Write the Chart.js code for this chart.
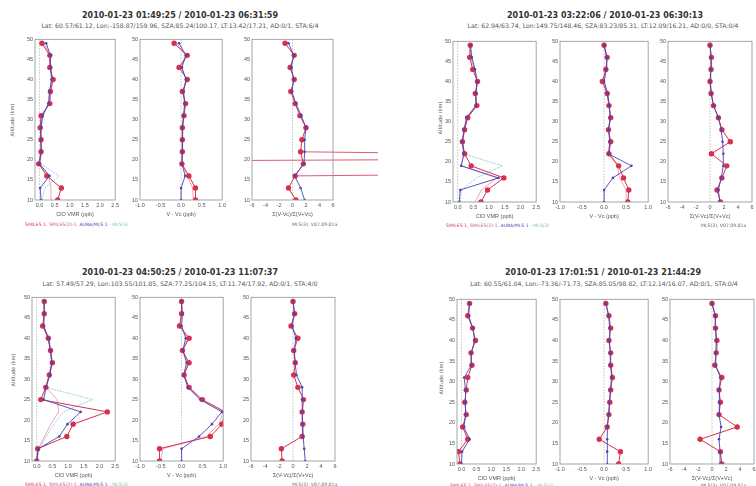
<!DOCTYPE html>
<html>
<head>
<meta charset="utf-8">
<script src="https://cdn.jsdelivr.net/npm/chart.js@4.4.1/dist/chart.umd.min.js"></script>
<style>
  body { margin: 0; width: 756px; height: 486px; background: #fff; position: relative; overflow: hidden; font-family: "DejaVu Sans", sans-serif; }
  .txt { position: absolute; white-space: nowrap; transform: translate(-50%, -50%); }
  .ttl { font-size: 8px; font-weight: bold; color: #333; }
  .sub { font-size: 6.2px; color: #555; }
  .ylab { font-size: 5px; color: #555; transform: translate(-50%, -50%) rotate(-90deg); }
  .leg { position: absolute; white-space: nowrap; font-size: 4.6px; transform: translateY(-50%); }
  canvas { position: absolute; }
</style>
</head>
<body>
<script>
// altitude levels (km), bottom to top
const altKm = [10, 13, 16, 19, 22, 25, 28, 31, 34, 37, 40, 43, 46, 49];
const yTicks = [10, 15, 20, 25, 30, 35, 40, 45, 50];
const cloTicks = [0, 0.5, 1, 1.5, 2, 2.5];
const diffTicks = [-1, -0.5, 0, 0.5, 1];
const ratioTicks = [-6, -4, -2, 0, 2, 4, 6];

const titles = [
  '2010-01-23 01:49:25 / 2010-01-23 06:31:59',
  '2010-01-23 03:22:06 / 2010-01-23 06:30:13',
  '2010-01-23 04:50:25 / 2010-01-23 11:07:37',
  '2010-01-23 17:01:51 / 2010-01-23 21:44:29'
];
const subtitles = [
  'Lat: 60.57/61.12, Lon:-158.87/159.96, SZA:85.24/100.17, LT:13.42/17.21, AD:0/1, STA:6/4',
  'Lat: 62.94/63.74, Lon:149.75/148.46, SZA:83.23/85.31, LT:12.09/16.21, AD:0/0, STA:0/4',
  'Lat: 57.49/57.29, Lon:103.55/101.85, SZA:77.25/104.15, LT:11.74/17.92, AD:0/1, STA:4/0',
  'Lat: 60.55/61.04, Lon:-73.36/-71.73, SZA:85.05/98.82, LT:12.14/16.07, AD:0/1, STA:0/4'
];

// top left
const tlCloRed  = [0.60, 0.72, 0.24, -0.03, 0.05, 0.05, 0.02, 0.05, 0.34, 0.36, 0.45, 0.34, 0.34, 0.08];
const tlCloMag  = [0.40, 0.38, 0.30, 0.00, 0.05, 0.05, 0.04, 0.08, 0.32, 0.34, 0.43, 0.36, 0.34, 0.14];
const tlCloBlue = [0.05, 0.02, 0.33, 0.00, 0.06, 0.04, 0.05, 0.10, 0.30, 0.33, 0.40, 0.37, 0.36, 0.22];
const tlCloCyan = [0.08, 0.18, 0.65, 0.03, 0.06, 0.06, 0.06, 0.14, 0.28, 0.33, 0.38, 0.36, 0.34, 0.22];
const tlDiffRed  = [0.35, 0.35, 0.19, 0.02, 0.03, 0.03, 0.03, 0.07, 0.11, 0.03, 0.15, -0.05, 0.15, -0.17];
const tlDiffMag  = [0.30, 0.28, 0.15, 0.02, 0.03, 0.04, 0.05, 0.06, 0.08, 0.05, 0.12, 0.00, 0.10, -0.10];
const tlDiffBlue = [0.00, 0.00, 0.10, 0.02, 0.03, 0.03, 0.03, 0.06, 0.09, 0.06, 0.12, 0.02, 0.12, -0.05];
const tlRatioRed  = [0.5, -0.6, 0.4, 1.6, 1.2, 1.4, 2.0, 1.1, 0.4, -0.25, 0.25, -0.35, 0.25, -1.1];
const tlRatioBlue = [1.8, 1.2, 0.3, 1.7, 1.8, 1.8, 2.0, 1.3, 0.5, -0.1, 0.2, -0.2, 0.2, -0.6];
// off-scale segment around 17-22 km
const tlSpikeAlt = [22, 20.5, 19.3, null, 17.2, 16];
const tlSpikeVal = [1.2, 80, -80, null, 80, 0.4];

// top right
const trCloRed  = [0.74, 0.95, 1.47, 0.43, 0.22, 0.15, 0.22, 0.32, 0.61, 0.56, 0.63, 0.48, 0.38, 0.40];
const trCloMag  = [0.55, 0.75, 1.25, 0.11, 0.20, 0.14, 0.22, 0.30, 0.58, 0.57, 0.62, 0.52, 0.42, 0.40];
const trCloBlue = [0.05, 0.08, 1.30, 0.11, 0.20, 0.14, 0.20, 0.28, 0.58, 0.58, 0.62, 0.55, 0.45, 0.40];
const trCloCyan = [0.08, 0.12, 0.60, 1.42, 0.18, 0.15, 0.20, 0.30, 0.60, 0.58, 0.64, 0.56, 0.46, 0.42];
const trDiffRed  = [0.54, 0.56, 0.44, 0.33, 0.11, 0.15, 0.10, 0.15, 0.11, 0.07, -0.04, 0.04, 0.07, 0.00];
const trDiffMag  = [0.50, 0.50, 0.35, 0.30, 0.10, 0.14, 0.10, 0.14, 0.11, 0.08, 0.00, 0.05, 0.06, 0.00];
const trDiffBlue = [0.00, 0.00, 0.20, 0.62, 0.10, 0.13, 0.10, 0.14, 0.12, 0.08, 0.00, 0.05, 0.06, 0.00];
const trRatioRed  = [1.5, 1.0, 1.7, 2.4, 0.2, 2.9, 1.7, 1.2, 0.5, 0.15, 0.0, 0.15, 0.2, 0.0];
const trRatioBlue = [1.4, 1.2, 1.6, 1.9, 1.9, 1.8, 1.6, 1.2, 0.5, 0.2, 0.05, 0.1, 0.15, 0.0];

// bottom left
const blCloRed  = [0.00, 0.03, 0.96, 1.16, 2.25, 0.13, 0.29, 0.40, 0.50, 0.44, 0.37, 0.19, 0.24, 0.24];
const blCloMag  = [0.00, 0.05, 0.25, 0.45, 0.70, 0.65, 0.30, 0.40, 0.48, 0.44, 0.40, 0.22, 0.24, 0.22];
const blCloBlue = [0.00, 0.05, 0.72, 0.98, 1.40, 0.22, 0.30, 0.42, 0.48, 0.44, 0.37, 0.22, 0.24, 0.24];
const blCloCyan = [0.02, 0.08, 0.30, 0.55, 0.85, 1.78, 0.30, 0.38, 0.46, 0.42, 0.36, 0.22, 0.22, 0.22];
const blDiffRed  = [-0.53, -0.53, 0.69, 0.97, 1.05, 0.50, 0.18, 0.06, 0.18, 0.02, 0.18, -0.05, 0.00, 0.00];
const blDiffMag  = [-0.50, -0.45, 0.60, 0.90, 1.00, 0.45, 0.15, 0.06, 0.15, 0.03, 0.15, -0.03, 0.00, 0.00];
const blDiffBlue = [0.00, 0.00, 0.42, 0.73, 0.97, 0.45, 0.15, 0.05, 0.12, 0.03, 0.10, 0.00, 0.02, 0.00];
const blRatioRed  = [-1.56, -1.66, 1.3, 1.4, 1.3, 1.5, 0.7, 0.1, 0.33, 0.1, 0.7, -0.28, 0.24, 0.0];
const blRatioBlue = [1.75, 1.6, 1.45, 1.4, 1.35, 1.3, 1.3, 0.5, 0.3, 0.2, 0.4, -0.1, 0.2, 0.0];

// bottom right
const brCloRed  = [-0.05, -0.10, 0.21, 0.04, 0.16, 0.11, 0.16, 0.21, 0.35, 0.32, 0.47, 0.37, 0.21, 0.27];
const brCloBlue = [0.00, 0.02, 0.27, 0.08, 0.14, 0.12, 0.15, 0.09, 0.33, 0.33, 0.44, 0.38, 0.24, 0.27];
const brDiffRed  = [0.33, 0.37, -0.11, 0.07, 0.11, 0.13, 0.15, 0.19, 0.15, 0.15, 0.11, 0.15, 0.11, 0.04];
const brDiffBlue = [0.07, 0.07, 0.07, 0.08, 0.10, 0.12, 0.14, 0.17, 0.15, 0.14, 0.12, 0.13, 0.10, 0.04];
const brRatioRed  = [1.4, 1.2, -1.7, 3.6, 1.0, 1.2, 1.0, 1.4, 0.4, 0.6, 0.7, 0.5, 0.5, 0.0];
const brRatioBlue = [1.2, 1.15, 1.0, 1.3, 1.0, 1.1, 1.0, 1.2, 0.5, 0.55, 0.6, 0.5, 0.45, 0.0];

const RED = '#d8304c', MAG = '#eb8fa4', BLUE = '#4a44b2', CYAN = '#84c6dc';

const pts = (vals, alts) => vals.map((v, i) => ({ x: v, y: (alts || altKm)[i] }));

function line(vals, kind, alts) {
  const base = { data: pts(vals, alts), tension: 0, spanGaps: false };
  if (kind === 'red') return { ...base, borderColor: RED, backgroundColor: RED, borderWidth: 1, pointRadius: 2.7, pointBorderWidth: 0, order: 2 };
  if (kind === 'blue') return { ...base, borderColor: BLUE, backgroundColor: BLUE, borderWidth: 0.9, pointRadius: 1.3, pointBorderWidth: 0, order: 1 };
  if (kind === 'mag') return { ...base, borderColor: MAG, borderWidth: 0.8, pointRadius: 0, order: 3 };
  return { ...base, borderColor: CYAN, borderWidth: 0.8, borderDash: [2, 1], pointRadius: 0, order: 4 };
}

// box outline and zero line, drawn through the chart's own scales
const frame = {
  id: 'frame',
  beforeDatasetsDraw(chart) {
    const { ctx, chartArea: a, scales } = chart;
    const x0 = scales.x.getPixelForValue(0);
    ctx.save();
    ctx.strokeStyle = '#9aa';
    ctx.lineWidth = 0.7;
    ctx.setLineDash([1.5, 1.5]);
    ctx.beginPath(); ctx.moveTo(x0, a.top); ctx.lineTo(x0, a.bottom); ctx.stroke();
    ctx.restore();
  },
  afterDraw(chart) {
    const { ctx, chartArea: a } = chart;
    ctx.save();
    ctx.strokeStyle = '#8a9296';
    ctx.lineWidth = 0.8;
    ctx.strokeRect(a.left, a.top, a.right - a.left, a.bottom - a.top);
    ctx.restore();
  }
};

function subplot(box, xMin, xMax, xTicks, xTitle, digits, sets, extraRight) {
  const padL = 18, padT = 4, padR = 4 + (extraRight || 0), axH = 18;
  const cv = document.createElement('canvas');
  cv.width = box[1] - box[0] + padL + padR;
  cv.height = box[3] - box[2] + padT + axH;
  cv.style.left = (box[0] - padL) + 'px';
  cv.style.top = (box[2] - padT) + 'px';
  document.body.appendChild(cv);
  new Chart(cv, {
    type: 'line',
    data: { datasets: sets },
    options: {
      responsive: false, animation: false,
      layout: { padding: { top: padT, right: padR, left: 0, bottom: 0 } },
      plugins: { legend: { display: false }, tooltip: { enabled: false } },
      scales: {
        x: {
          type: 'linear', min: xMin, max: xMax,
          afterBuildTicks: s => { s.ticks = xTicks.map(v => ({ value: v })); },
          afterFit: s => { s.height = axH; },
          grid: { display: false, drawTicks: false }, border: { display: false },
          ticks: { autoSkip: false, maxRotation: 0, padding: 2, color: '#555', font: { size: 5.5 },
                   callback: v => Number(v).toFixed(digits) },
          title: { display: true, text: xTitle, color: '#555', font: { size: 5.5 }, padding: 0 }
        },
        y: {
          type: 'linear', min: 10, max: 50,
          afterBuildTicks: s => { s.ticks = yTicks.map(v => ({ value: v })); },
          afterFit: s => { s.width = padL; },
          grid: { display: false, drawTicks: false }, border: { display: false },
          ticks: { autoSkip: false, padding: 2, color: '#555', font: { size: 5.5 } }
        }
      }
    },
    plugins: [frame]
  });
}

function text(cls, str, x, y) {
  const d = document.createElement('div');
  d.className = cls;
  d.textContent = str;
  d.style.left = x + 'px';
  d.style.top = y + 'px';
  document.body.appendChild(d);
}

function legend(x, y, noteX) {
  const d = document.createElement('div');
  d.className = 'leg';
  d.style.left = x + 'px';
  d.style.top = y + 'px';
  d.innerHTML = '<span style="color:' + RED + '">SMILES 1, </span><span style="color:#c8509a">SMILES(2)-1, </span>' +
    '<span style="color:' + BLUE + '">AURA/MLS 1 </span><span style="color:#7cc98a">- MLS(3)</span>';
  document.body.appendChild(d);
  const n = document.createElement('div');
  n.className = 'leg';
  n.style.left = noteX + 'px';
  n.style.top = y + 'px';
  n.style.color = '#666';
  n.textContent = 'MLS(3), V07.09.01a';
  document.body.appendChild(n);
}

const cloLabel = 'ClO VMR (ppb)';
const diffLabel = 'V - Vc (ppb)';
const ratioLabel = 'Σ(V-Vc)/Σ(V+Vc)';

// top left figure
text('txt ttl', titles[0], 180, 15);
text('txt sub', subtitles[0], 180, 25);
text('txt ylab', 'Altitude (km)', 12, 120);
subplot([35, 117, 38, 200], -0.15, 2.5, cloTicks, cloLabel, 1,
  [line(tlCloCyan, 'cyan'), line(tlCloMag, 'mag'), line(tlCloRed, 'red'), line(tlCloBlue, 'blue')]);
subplot([140, 224, 38, 200], -1, 1, diffTicks, diffLabel, 1,
  [line(tlDiffMag, 'mag'), line(tlDiffRed, 'red'), line(tlDiffBlue, 'blue')]);
const spike = line(tlSpikeVal, 'red', tlSpikeAlt);
spike.pointRadius = 0; spike.borderWidth = 0.8; spike.order = 3;
spike.clip = { left: 0, top: 0, right: false, bottom: 0 };
subplot([252, 333, 38, 200], -6, 6, ratioTicks, ratioLabel, 0,
  [spike, line(tlRatioRed, 'red'), line(tlRatioBlue, 'blue')], 41);
legend(25, 224, 292);

// top right figure
text('txt ttl', titles[1], 605, 15);
text('txt sub', subtitles[1], 603, 25);
text('txt ylab', 'Altitude (km)', 440, 118);
subplot([453, 538, 40, 202], -0.15, 2.5, cloTicks, cloLabel, 1,
  [line(trCloCyan, 'cyan'), line(trCloMag, 'mag'), line(trCloRed, 'red'), line(trCloBlue, 'blue')]);
subplot([560, 650, 40, 202], -1, 1, diffTicks, diffLabel, 1,
  [line(trDiffMag, 'mag'), line(trDiffRed, 'red'), line(trDiffBlue, 'blue')]);
subplot([668, 752, 40, 202], -6, 6, ratioTicks, ratioLabel, 0,
  [line(trRatioRed, 'red'), line(trRatioBlue, 'blue')]);
legend(446, 225, 701);

// bottom left figure
text('txt ttl', titles[2], 180, 272);
text('txt sub', subtitles[2], 180, 283);
text('txt ylab', 'Altitude (km)', 13, 370);
subplot([32, 117, 296, 461], -0.15, 2.5, cloTicks, cloLabel, 1,
  [line(blCloCyan, 'cyan'), line(blCloMag, 'mag'), line(blCloRed, 'red'), line(blCloBlue, 'blue')]);
subplot([140, 225, 296, 461], -1, 1, diffTicks, diffLabel, 1,
  [line(blDiffMag, 'mag'), line(blDiffRed, 'red'), line(blDiffBlue, 'blue')]);
subplot([251, 335, 296, 461], -6, 6, ratioTicks, ratioLabel, 0,
  [line(blRatioRed, 'red'), line(blRatioBlue, 'blue')]);
legend(25, 484, 292);

// bottom right figure
text('txt ttl', titles[3], 603, 272);
text('txt sub', subtitles[3], 604, 283);
text('txt ylab', 'Altitude (km)', 441, 378);
subplot([457, 538, 298, 464], -0.15, 2.5, cloTicks, cloLabel, 1,
  [line(brCloRed, 'red'), line(brCloBlue, 'blue')]);
subplot([560, 650, 298, 464], -1, 1, diffTicks, diffLabel, 1,
  [line(brDiffRed, 'red'), line(brDiffBlue, 'blue')]);
subplot([670, 754, 298, 464], -6, 6, ratioTicks, ratioLabel, 0,
  [line(brRatioRed, 'red'), line(brRatioBlue, 'blue')]);
legend(450, 485, 701);
</script>
</body>
</html>
